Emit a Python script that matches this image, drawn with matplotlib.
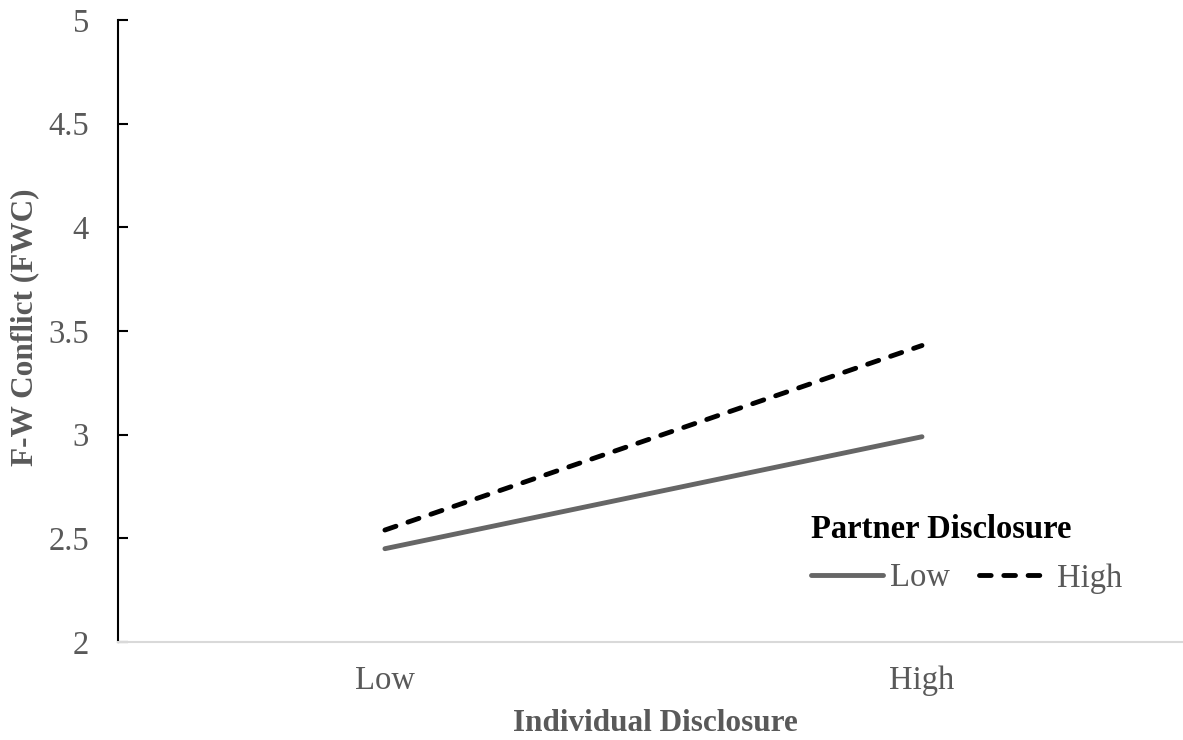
import numpy as np
import matplotlib
matplotlib.use('Agg')
import matplotlib.pyplot as plt

# data
categories = ['Low', 'High']
partner_low = [2.45, 2.99]
partner_high = [2.54, 3.43]
yticks = [2, 2.5, 3, 3.5, 4, 4.5, 5]

plt.rcParams['font.family'] = ['Liberation Serif', 'DejaVu Serif']
grey = '#595959'
fs = 23.5

fig = plt.figure(figsize=(11.83, 7.40), dpi=100)
ax = fig.add_axes([118 / 1183, 1 - 642 / 740, 1 - 118 / 1183, (642 - 20) / 740])

x = np.arange(len(categories))
ax.plot(x, partner_low, color='#666666', lw=3.5, solid_capstyle='round', label='Low')
ax.plot(x, partner_high, color='black', lw=3.5, dashes=(2.4, 2.6),
        dash_capstyle='round', label='High')

ax.set_xlim(-0.497, 1.486)
ax.set_ylim(2, 5)
ax.set_xticks(x)
ax.set_xticklabels(categories)
ax.set_yticks(yticks)
ax.set_yticklabels(['2', '2.5', '3', '3.5', '4', '4.5', '5'])

for s in ['top', 'right']:
    ax.spines[s].set_visible(False)
ax.spines['left'].set_color('black')
ax.spines['left'].set_linewidth(1.5)
ax.spines['bottom'].set_color('#d9d9d9')
ax.spines['bottom'].set_linewidth(1.5)

ax.tick_params(axis='y', direction='in', length=7, width=1.5, color='black',
               labelsize=fs, labelcolor=grey, pad=21)
ax.tick_params(axis='x', length=0, labelsize=fs, labelcolor=grey, pad=17)

ax.set_xlabel('Individual Disclosure', fontsize=22.5, fontweight='bold', color=grey)
ax.set_ylabel('F-W Conflict (FWC)', fontsize=22.5, fontweight='bold', color=grey)
ax.xaxis.set_label_coords((655 - 118) / 1065, -0.108)
ax.yaxis.set_label_coords(-0.074, 0.506)

leg = ax.legend(ncol=2, title='Partner Disclosure', loc='upper left',
                bbox_to_anchor=(782 / 1183, 1 - 485 / 740), bbox_transform=fig.transFigure,
                frameon=False, fontsize=fs, handlelength=2.2, handletextpad=0.2,
                columnspacing=0.9, alignment='left', labelspacing=0.54,
                title_fontproperties={'weight': 'bold', 'size': fs})
for t in leg.get_texts():
    t.set_color(grey)

fig.savefig('out.png', dpi=100)
